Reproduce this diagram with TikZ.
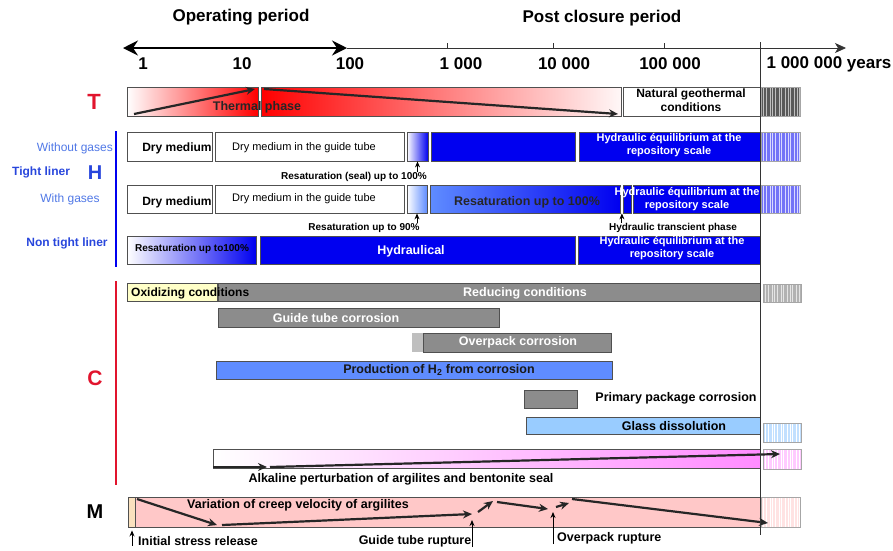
\documentclass[tikz,border=0pt]{standalone}
\usepackage{fontspec}
\setmainfont{Liberation Sans}
\usetikzlibrary{arrows.meta,fit}

\definecolor{hblau}{RGB}{0,0,240}
\definecolor{hellblau}{RGB}{95,140,255}
\definecolor{glasblau}{RGB}{153,204,255}
\definecolor{crot}{RGB}{225,20,45}
\definecolor{labelblau}{RGB}{40,70,220}
\definecolor{gasblau}{RGB}{80,120,230}
\definecolor{cgrau}{RGB}{140,140,140}
\definecolor{gelb}{RGB}{255,255,200}
\definecolor{violett}{RGB}{255,140,255}
\definecolor{mrosa}{RGB}{255,200,200}
\definecolor{beige}{RGB}{250,225,190}
\definecolor{rand}{RGB}{80,80,80}

% gestreifter Balken nach 1 000 000 Jahren: x1,y1,x2,y2,Farbe,Streifen
\newcommand\streifen[6]{%
  \fill[#5] (#1,#2) rectangle (#3,#4);
  \foreach\s in {2.5,5,9,11,14,18,20,24,27,29,33,36,38}
    \draw[#6,line width=.7pt] ({#1+\s},#2) -- ({#1+\s},#4);
  \draw[black!35,line width=.4pt] (#1,#2) rectangle (#3,#4);}

\begin{document}
\begin{tikzpicture}[x=1pt,y=-1pt,>={Stealth[length=9pt,width=8pt]},
  bx/.style={draw=rand,line width=.8pt,inner sep=0pt},
  pfeil/.style={->,line width=2.2pt,draw=black!85},
  zeiger/.style={->,line width=.9pt,>={Stealth[length=6pt,width=5pt]}},
  gr/.style={font=\fontsize{#1}{#1}\selectfont\bfseries,inner sep=0pt},
  nm/.style={font=\fontsize{#1}{#1}\selectfont,inner sep=0pt},
  hyd/.style={font=\fontsize{11}{13.5}\selectfont\bfseries,text=white,align=center,inner sep=0pt}]
  \useasboundingbox (0,0) rectangle (893,550);
  % Titel
  \node[gr=17] (opper) at (241,17) {Operating period};
  \node[gr=17] (postcl) at (602,18) {Post closure period};
  % Zeitachse
  \coordinate (ax0) at (123,48);
  \coordinate (ax1) at (347,48);
  \coordinate (ax2) at (846,48);
  \draw[line width=.8pt,black!80,-{Stealth[length=11pt,width=10pt,inset=3pt]}] (ax1) -- (ax2);
  \draw[line width=2.2pt,{Stealth[length=15pt,width=15pt,inset=5pt]}-{Stealth[length=15pt,width=15pt,inset=5pt]}] (ax0) -- (ax1);
  \foreach\x in {447,553,664} \draw[line width=.8pt,black!80] (\x,43) -- (\x,48);
  \node[gr=17] (j1) at (143,64) {1};
  \node[gr=17] (j10) at (242,64) {10};
  \node[gr=17] (j100) at (350,64) {100};
  \node[gr=17] (j1k) at (461,64) {1 000};
  \node[gr=17] (j10k) at (564,64) {10 000};
  \node[gr=17] (j100k) at (670,64) {100 000};
  \node[gr=17] (j1m) at (829,64) {1 000 000 years};

  % T
  \node[gr=22,text=crot] (lt) at (94,102) {T};
  \node[bx,fit={(127,87)(258,116)},left color=white,right color=red] (t1) {};
  \node[bx,fit={(261,87)(621,116)},left color=red,right color=red!3] (t2) {};
  \node[bx,fit={(623,87)(760,116)},fill=white] (t3) {};
  \streifen{761}{87}{800}{116}{black!65}{white!75!black}
  \node[gr=12.5,text=black!85] (therm) at (257,107) {Thermal phase};
  \node[font=\fontsize{12}{14}\selectfont\bfseries,align=center,inner sep=0pt] (geo) at (691,100) {Natural geothermal\\conditions};
  \draw[pfeil] (134,114) -- (255,89);
  \draw[pfeil] (264,89) -- (618,114);

  % H
  \draw[hblau,line width=1.5pt] (116,131) -- (116,267);
  \node[nm=12,text=gasblau,anchor=east] (ohne) at (113,148) {Without gases};
  \node[gr=12,text=labelblau,anchor=west] (tight) at (12,172) {Tight liner};
  \node[gr=20,text=labelblau] (lh) at (95,173) {H};
  \node[nm=12,text=gasblau] (mit) at (70,199) {With gases};
  \node[gr=12,text=labelblau] (ntl) at (67,243) {Non tight liner};
  % ohne Gase
  \node[bx,fit={(127,132)(212,161)},fill=white] (h1a) {};
  \node[bx,fit={(215,132)(404,161)},fill=white] (h1b) {};
  \node[bx,fit={(407,132)(428,161)},left color=white,right color=hblau] (h1c) {};
  \node[bx,fit={(431,132)(575,161)},fill=hblau] (h1d) {};
  \node[bx,fit={(579,132)(760,161)},fill=hblau] (h1e) {};
  \streifen{761}{132}{800}{161}{hblau!55}{white!85!blue}
  \node[gr=12] (dm1) at (177,148) {Dry medium};
  \node[nm=11] (dg1) at (304,148) {Dry medium in the guide tube};
  \node[hyd] (he1) at (669,145) {Hydraulic équilibrium at the\\repository scale};
  \node[gr=10] (rs1) at (354,177) {Resaturation (seal) up to 100\%};
  \draw[zeiger] (h1c.south |- rs1.north) -- (h1c.south);
  % mit Gasen
  \node[bx,fit={(127,185)(212,213)},fill=white] (h2a) {};
  \node[bx,fit={(215,185)(404,213)},fill=white] (h2b) {};
  \node[bx,fit={(407,185)(427,213)},left color=white,right color=hellblau] (h2c) {};
  \node[bx,fit={(430,185)(620,213)},left color=hellblau,right color=hblau] (h2d) {};
  \node[bx,fit={(623,185)(631,213)},fill=hblau] (h2e) {};
  \node[bx,fit={(633,185)(760,213)},fill=hblau] (h2f) {};
  \streifen{761}{185}{800}{213}{hblau!55}{white!85!blue}
  \node[gr=12] (dm2) at (177,202) {Dry medium};
  \node[nm=11] (dg2) at (304,199) {Dry medium in the guide tube};
  \node[gr=12.5,text=black!85] (rs100) at (527,202) {Resaturation up to 100\%};
  \node[hyd] (he2) at (687,199) {Hydraulic équilibrium at the\\repository scale};
  \node[gr=10] (rs90) at (364,228) {Resaturation up to 90\%};
  \draw[zeiger] (h2c.south |- rs90.north) -- (h2c.south);
  \node[gr=10] (htp) at (673,228) {Hydraulic transcient phase};
  \draw[zeiger] ([xshift=1.5pt]h2d.south east |- htp.north) -- ([xshift=1.5pt]h2d.south east);
  % nicht dicht
  \node[bx,fit={(127,236)(256,264)},left color=white,right color=hblau] (h3a) {};
  \node[bx,fit={(260,236)(575,264)},fill=hblau] (h3b) {};
  \node[bx,fit={(578,236)(760,264)},fill=hblau] (h3c) {};
  \node[gr=10] (rs3) at (192,249) {Resaturation up to100\%};
  \node[gr=12.5,text=white] (hydr) at (411,251) {Hydraulical};
  \node[hyd] (he3) at (672,248) {Hydraulic équilibrium at the\\repository scale};

  % C
  \draw[crot,line width=1.5pt] (116,281) -- (116,485);
  \node[gr=21,text=crot] (lc) at (95,378) {C};
  \node[bx,fit={(127,283)(217,301)},fill=gelb] (c1) {};
  \node[bx,fit={(218,283)(760,301)},fill=cgrau] (c2) {};
  \streifen{763}{284}{801}{302}{black!30}{white!90!black}
  \node[gr=12,anchor=west] (oxi) at (131,293) {Oxidizing conditions};
  \node[gr=12.5,text=white] (redu) at (525,293) {Reducing conditions};
  \node[bx,fit={(218,308)(499,327)},fill=cgrau] (c3) {};
  \node[gr=12.5,text=white] (gtc) at (336,318) {Guide tube corrosion};
  \node[fit={(412,333)(423,352)},inner sep=0pt,fill=black!25] (c4a) {};
  \node[bx,fit={(423,333)(611,352)},fill=cgrau] (c4) {};
  \node[gr=12.5,text=white] (ovc) at (518,342) {Overpack corrosion};
  \node[bx,fit={(216,361)(612,379)},fill=hellblau] (c5) {};
  \node[gr=12.5,text=black!90] (prod) at (439,370) {Production of H\textsubscript{2} from corrosion};
  \node[bx,fit={(524,390)(577,408)},fill=cgrau] (c6) {};
  \node[gr=12.5] (ppc) at (676,398) {Primary package corrosion};
  \node[bx,fit={(526,417)(760,434)},fill=glasblau] (c7) {};
  \node[gr=12.5] (gd) at (674,426) {Glass dissolution};
  \streifen{763}{423}{801}{442}{glasblau!60}{white}
  \node[bx,fit={(213,449)(760,468)},left color=white,right color=violett] (c8) {};
  \streifen{763}{449}{801}{469}{violett!45}{white}
  \draw[pfeil] (213,467) -- (267,467);
  \draw[pfeil] (270,467) -- (780,454);
  \node[gr=12.5] (alk) at (401,479) {Alkaline perturbation of argilites and bentonite seal};

  % M
  \node[gr=20] (lm) at (95,512) {M};
  \node[bx,fit={(128,497)(135,527)},fill=beige] (m0) {};
  \node[bx,fit={(135,497)(760,527)},fill=mrosa] (m1) {};
  \streifen{761}{497}{800}{527}{mrosa!50}{white}
  \node[gr=12.5] (creep) at (298,505) {Variation of creep velocity of argilites};
  \draw[pfeil] (137,499) -- (217,525);
  \draw[pfeil] (222,525) -- (472,514);
  \draw[pfeil] (478,512) -- (493,501);
  \draw[pfeil] (497,502) -- (548,509);
  \draw[pfeil] (556,507) -- (569,503);
  \draw[pfeil] (572,499) -- (768,523);
  \node[gr=12.5,anchor=west] (isr) at (138,541) {Initial stress release};
  \draw[zeiger,line width=1pt] ([xshift=-6pt]isr.south west) -- ([xshift=-6pt,yshift=-3pt]isr.west |- m0.south);
  \node[gr=12.5] (gtr) at (415,541) {Guide tube rupture};
  \coordinate (gtp) at (472,520);
  \draw[zeiger] (gtr.south east -| gtp) -- (gtp);
  \node[gr=12.5,anchor=west] (opr) at (557,538) {Overpack rupture};
  \coordinate (opp) at (553,512);
  \draw[zeiger] (opr.south west -| opp) -- (opp);

  % Grenze 1 000 000 Jahre
  \draw[line width=.9pt,black!80] (760.5,42) -- (760.5,535);
\end{tikzpicture}
\end{document}
